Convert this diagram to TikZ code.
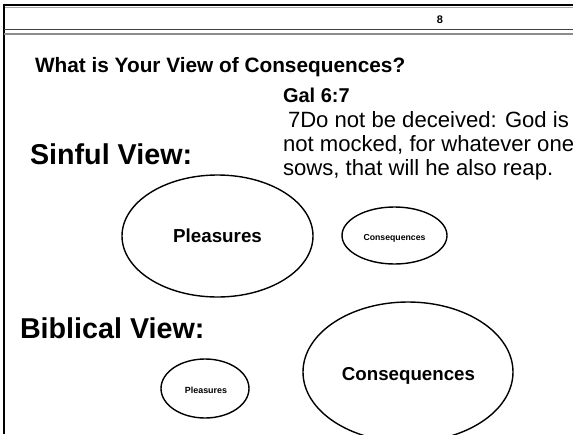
\documentclass[tikz,border=0pt]{standalone}
\usepackage{fontspec}
\setmainfont{Liberation Sans}
\usetikzlibrary{shapes.geometric}
\tikzset{
  txt/.style={inner sep=0pt, outer sep=0pt, anchor=base west},
  ctxt/.style={inner sep=0pt, outer sep=0pt, anchor=base, font=\bfseries},
  oval/.style={draw=black, line width=1.4pt, ellipse, inner sep=0pt},
}
\begin{document}
\begin{tikzpicture}[x=1pt,y=-1pt]
\useasboundingbox (0,0) rectangle (573,434);
\clip (0,0) rectangle (573,434);
% frame
\draw[line width=2.6pt, black] (3,5) -- (573,5);
\draw[line width=0.8pt, gray!70] (4,7.6) -- (573,7.6);
\draw[line width=1.7pt, black] (4,3.7) -- (4,434);
\draw[line width=1pt, black!75] (4,29.5) -- (573,29.5);
\draw[line width=2pt, black!45] (4,34) -- (573,34);
% header number
\node[ctxt, font=\bfseries\fontsize{11}{13}\selectfont] (pg) at (440,23) {8};
% title
\node[txt, font=\bfseries\fontsize{20.8}{24}\selectfont] (title) at (35,72) {What is Your View of Consequences?};
% verse
\node[txt, font=\bfseries\fontsize{20}{24}\selectfont] (gal) at (283,102) {Gal 6:7};
\node[txt, font=\fontsize{22.1}{24}\selectfont] (v1) at (288,127) {7Do not be deceived: God is};
\node[txt, font=\fontsize{22.1}{24}\selectfont] (v2) at (283,151) {not mocked, for whatever one};
\node[txt, font=\fontsize{22.1}{24}\selectfont] (v3) at (283,175) {sows, that will he also reap.};
% views
\node[txt, font=\bfseries\fontsize{28.7}{32}\selectfont] (sinful) at (30,164) {Sinful View:};
\node[txt, font=\bfseries\fontsize{28.7}{32}\selectfont] (biblical) at (20,338) {Biblical View:};
% sinful ellipses
\node[oval, minimum width=191pt, minimum height=122pt] (sp) at (217.5,236) {};
\node[ctxt, font=\bfseries\fontsize{18.8}{22}\selectfont] (spt) at (217.5,242) {Pleasures};
\node[oval, minimum width=105pt, minimum height=57pt] (sc) at (394.5,235.5) {};
\node[ctxt, font=\bfseries\fontsize{8.7}{10}\selectfont] (sct) at (394.5,240) {Consequences};
% biblical ellipses
\node[oval, minimum width=88pt, minimum height=59pt] (bp) at (205,388.5) {};
\node[ctxt, font=\bfseries\fontsize{8.9}{10}\selectfont] (bpt) at (206,393) {Pleasures};
\node[oval, minimum width=210pt, minimum height=140pt] (bc) at (408,372) {};
\node[ctxt, font=\bfseries\fontsize{18.7}{22}\selectfont] (bct) at (408.5,380) {Consequences};
\end{tikzpicture}
\end{document}
